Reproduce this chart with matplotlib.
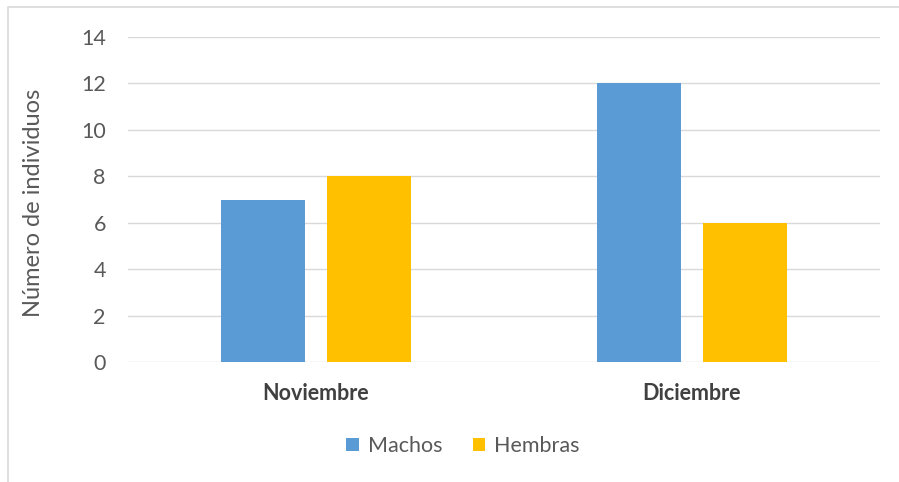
import matplotlib.pyplot as plt
import numpy as np
from matplotlib.patches import Rectangle

meses = ['Noviembre', 'Diciembre']
machos = [7, 12]
hembras = [8, 6]
yticks = [0, 2, 4, 6, 8, 10, 12, 14]

plt.rcParams['font.family'] = ['Lato', 'DejaVu Sans']

fig = plt.figure(figsize=(8.99, 4.82), dpi=100)
W, H = 899, 482

# marco del grafico (solo se ven los bordes superior e izquierdo)
fig.patches.append(Rectangle((8 / W, -1), 2, 2 - 7 / H, transform=fig.transFigure,
                             fill=False, edgecolor='#d9d9d9', linewidth=1.2))

ax = fig.add_axes([128 / W, (H - 362) / H, (880 - 128) / W, (362 - 37) / H])

x = np.arange(len(meses))
ancho = 0.2234
off = 0.142
ax.bar(x - off, machos, ancho, color='#5b9bd5', label='Machos', zorder=3)
ax.bar(x + off, hembras, ancho, color='#ffc000', label='Hembras', zorder=3)

ax.set_xlim(-0.5, 1.5)
ax.set_ylim(0, 14)
ax.set_yticks(yticks)
ax.set_yticklabels([str(t) for t in yticks], fontsize=15.5, color='#595959')
ax.set_xticks(x)
ax.set_xticklabels(meses, fontsize=15.5, fontweight='bold', color='#404040')
ax.tick_params(axis='y', length=0, pad=16)
ax.tick_params(axis='x', length=0, pad=15)
ax.grid(axis='y', color='#d9d9d9', linewidth=1, zorder=0)
for s in ax.spines.values():
    s.set_visible(False)

ax.set_ylabel('Número de individuos', fontsize=17, color='#595959')
ax.yaxis.set_label_coords(-0.112, 0.49)

fig.legend(loc='center', bbox_to_anchor=(463 / W, (H - 446) / H), ncol=2,
           frameon=False, fontsize=15.5, labelcolor='#595959',
           handlelength=0.6, handleheight=0.6, handletextpad=0.4,
           columnspacing=1.4)

fig.savefig('out.png', dpi=100)
